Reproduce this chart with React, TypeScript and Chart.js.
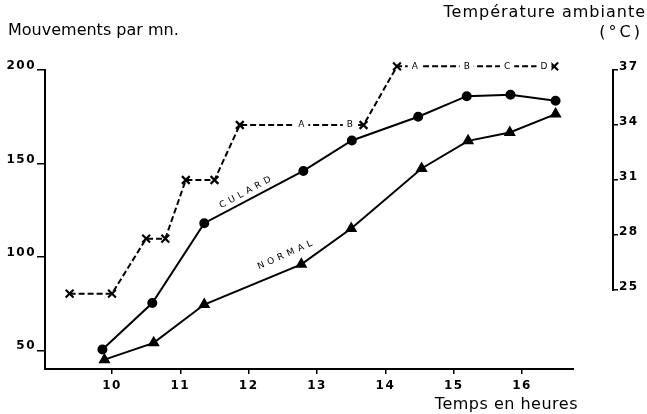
import { useEffect, useRef } from 'react';
import { Chart, registerables } from 'chart.js';

Chart.register(...registerables);

// ---- data ----
const hourTicks = [10, 11, 12, 13, 14, 15, 16];
const movementTicks = [50, 100, 150, 200];
const temperatureTicks = [25, 28, 31, 34, 37];

const culardHours = [9.86, 10.59, 11.35, 12.8, 13.51, 14.48, 15.19, 15.83, 16.49];
const culardMovements = [50.4, 75.3, 118, 146, 162.3, 175, 186, 186.8, 183.5];

const normalHours = [9.89, 10.61, 11.35, 12.77, 13.5, 14.53, 15.21, 15.82, 16.49];
const normalMovements = [45, 54, 74.5, 96, 115.2, 147.3, 162.1, 166.6, 176.4];

const temperatureHours = [9.38, 10.0, 10.5, 10.78, 11.08, 11.5, 11.87, 13.68, 14.17, 16.47];
const temperatureValues = [24.8, 24.8, 27.8, 27.8, 31, 31, 34, 34, 37.2, 37.2];

const stageLetters = ['A', 'B', 'A', 'B', 'C', 'D'];
const stageHours = [12.77, 13.48, 14.43, 15.19, 15.78, 16.32];
const stageTemperatures = [34, 34, 37.2, 37.2, 37.2, 37.2];

const seriesNames = ['CULARD', 'NORMAL'];
const seriesNameHours = [11.95, 12.53];
const seriesNameMovements = [134.4, 100.9];
const seriesNameAngles = [-28.5, -24];

const titleLeft = 'Mouvements par mn.';
const titleRight1 = 'Température ambiante';
const titleRight2 = '(°C)';
const titleX = 'Temps en heures';

const X_AXIS_END = 16.76;
const FONT = '"DejaVu Sans", sans-serif';

const decorations = {
  id: 'decorations',
  beforeDraw(chart: any) {
    chart.ctx.letterSpacing = '1.5px';
  },
  afterDatasetsDraw(chart: any) {
    const { ctx, chartArea, scales } = chart;
    const x = scales.x;
    const y = scales.y;
    const y2 = scales.y2;
    ctx.save();
    ctx.strokeStyle = '#000';
    ctx.lineWidth = 2;
    ctx.setLineDash([]);
    // x axis line (stops before the right axis)
    ctx.beginPath();
    ctx.moveTo(chartArea.left - 1, chartArea.bottom);
    ctx.lineTo(x.getPixelForValue(X_AXIS_END), chartArea.bottom);
    ctx.stroke();
    // right axis line, only over its ticks
    ctx.beginPath();
    ctx.moveTo(chartArea.right, y2.getPixelForValue(temperatureTicks[0]) + 1);
    ctx.lineTo(chartArea.right, y2.getPixelForValue(temperatureTicks[temperatureTicks.length - 1]) - 1);
    ctx.stroke();

    // stage letters on the temperature line
    ctx.font = `9px ${FONT}`;
    ctx.letterSpacing = '0px';
    ctx.textAlign = 'center';
    ctx.textBaseline = 'middle';
    stageLetters.forEach((t, i) => {
      const px = x.getPixelForValue(stageHours[i]);
      const py = y2.getPixelForValue(stageTemperatures[i]);
      const w = ctx.measureText(t).width + 8;
      ctx.fillStyle = '#fff';
      ctx.fillRect(px - w / 2, py - 5, w, 10);
      ctx.fillStyle = '#000';
      ctx.fillText(t, px, py);
    });

    // series names along the lines
    ctx.font = `9px ${FONT}`;
    ctx.letterSpacing = '4px';
    seriesNames.forEach((t, i) => {
      const px = x.getPixelForValue(seriesNameHours[i]);
      const py = y.getPixelForValue(seriesNameMovements[i]);
      ctx.save();
      ctx.translate(px, py);
      ctx.rotate((seriesNameAngles[i] * Math.PI) / 180);
      ctx.fillStyle = '#000';
      ctx.fillText(t, 2, 0);
      ctx.restore();
    });
    ctx.restore();
  },
  afterDraw(chart: any) {
    const { ctx } = chart;
    ctx.save();
    ctx.fillStyle = '#000';
    ctx.textBaseline = 'middle';
    ctx.font = `16px ${FONT}`;
    ctx.letterSpacing = '0px';
    ctx.textAlign = 'left';
    ctx.fillText(titleLeft, 8, 31);
    ctx.textAlign = 'right';
    ctx.letterSpacing = '1px';
    ctx.fillText(titleRight1, 646, 13);
    ctx.letterSpacing = '3px';
    ctx.fillText(titleRight2, 643, 33);
    ctx.letterSpacing = '0.5px';
    ctx.fillText(titleX, 578, 405);
    ctx.restore();
  },
};

const tickFont = { family: FONT, size: 12, weight: 'bold' as const };

export default function App() {
  const ref = useRef<HTMLCanvasElement | null>(null);

  useEffect(() => {
    if (!ref.current) return;
    const chart = new Chart(ref.current, {
      type: 'line',
      data: {
        datasets: [
          {
            label: 'Culard',
            data: culardHours.map((h, i) => ({ x: h, y: culardMovements[i] })),
            yAxisID: 'y',
            borderColor: '#000',
            backgroundColor: '#000',
            borderWidth: 2,
            pointStyle: 'circle',
            pointRadius: 4,
            pointBackgroundColor: '#000',
            pointBorderColor: '#000',
            tension: 0,
            clip: false,
          },
          {
            label: 'Normal',
            data: normalHours.map((h, i) => ({ x: h, y: normalMovements[i] })),
            yAxisID: 'y',
            borderColor: '#000',
            backgroundColor: '#000',
            borderWidth: 2,
            pointStyle: 'triangle',
            pointRadius: 5,
            pointBackgroundColor: '#000',
            pointBorderColor: '#000',
            tension: 0,
            clip: false,
          },
          {
            label: 'Température',
            data: temperatureHours.map((h, i) => ({ x: h, y: temperatureValues[i] })),
            yAxisID: 'y2',
            borderColor: '#000',
            borderWidth: 2,
            borderDash: [6, 3],
            pointStyle: 'crossRot',
            pointRadius: 5.5,
            pointBorderWidth: 2.2,
            pointBorderColor: '#000',
            tension: 0,
            clip: false,
          },
        ],
      },
      options: {
        responsive: false,
        animation: false,
        layout: { padding: { top: 70, left: 0, right: 0, bottom: 0 } },
        plugins: {
          legend: { display: false },
          tooltip: { enabled: false },
        },
        scales: {
          x: {
            type: 'linear',
            min: 9.02,
            max: 17.33,
            border: { display: false },
            grid: {
              drawOnChartArea: false,
              drawTicks: true,
              tickLength: 5,
              color: '#000',
              lineWidth: 1.5,
            },
            ticks: { color: '#000', font: tickFont, padding: 5 },
            afterBuildTicks: (scale: any) => {
              scale.ticks = hourTicks.map((value) => ({ value }));
            },
            afterFit: (scale: any) => {
              scale.height = 45;
            },
          },
          y: {
            type: 'linear',
            position: 'left',
            min: 40,
            max: 200,
            border: { display: true, color: '#000', width: 2 },
            grid: {
              drawOnChartArea: false,
              drawTicks: true,
              tickLength: 8,
              color: '#000',
              lineWidth: 1.5,
            },
            ticks: { color: '#000', font: tickFont, padding: 1, labelOffset: -4 },
            afterBuildTicks: (scale: any) => {
              scale.ticks = movementTicks.map((value) => ({ value }));
            },
            afterFit: (scale: any) => {
              scale.width = 45;
            },
          },
          y2: {
            type: 'linear',
            position: 'right',
            min: 20.69,
            max: 37,
            border: { display: false },
            grid: {
              drawOnChartArea: false,
              drawTicks: true,
              tickLength: 5,
              color: '#000',
              lineWidth: 1.5,
            },
            ticks: { color: '#000', font: tickFont, padding: 1, labelOffset: -3 },
            afterBuildTicks: (scale: any) => {
              scale.ticks = temperatureTicks.map((value) => ({ value }));
            },
            afterFit: (scale: any) => {
              scale.width = 34;
            },
          },
        },
      },
      plugins: [decorations],
    } as any);
    return () => chart.destroy();
  }, []);

  return (
    <div style={{ position: 'fixed', left: 0, top: 0, width: 647, height: 414, background: '#fff' }}>
      <canvas ref={ref} width={647} height={414} style={{ display: 'block' }} />
    </div>
  );
}
